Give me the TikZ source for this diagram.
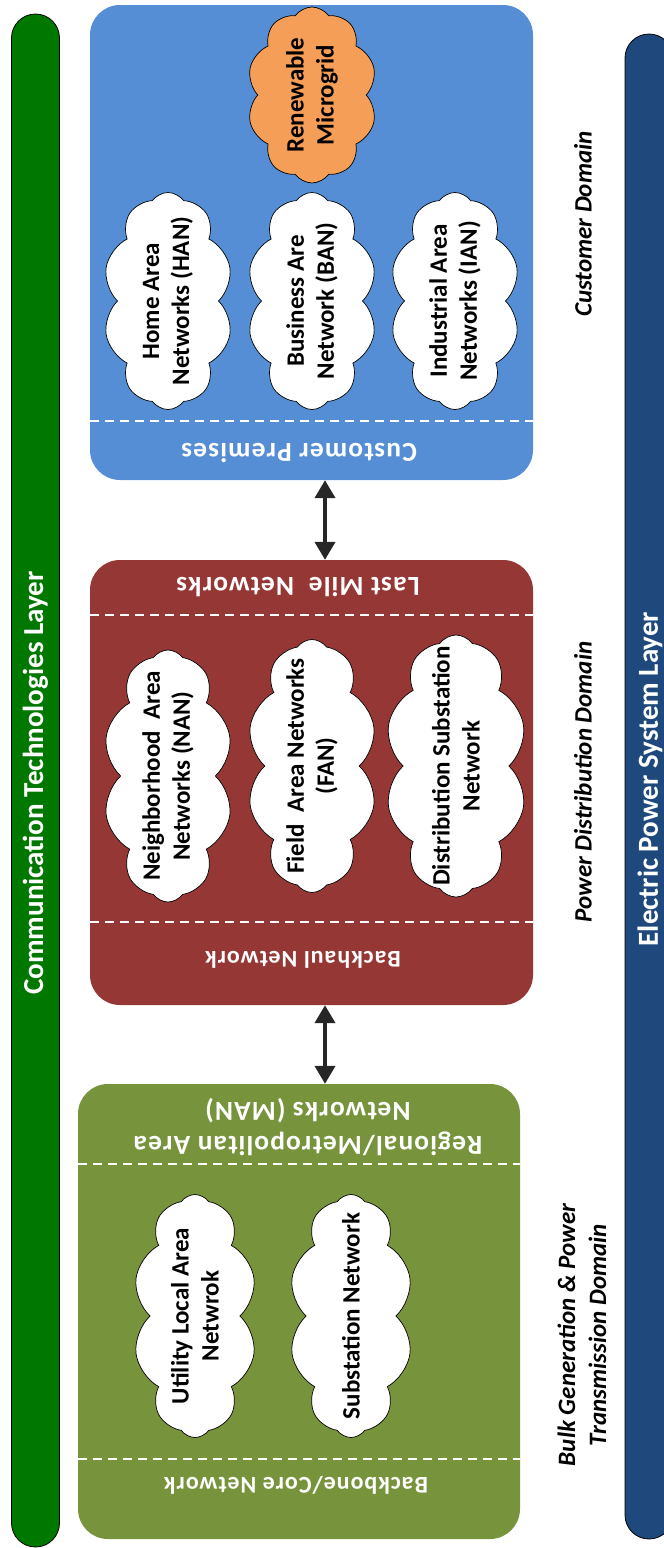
\documentclass[tikz,border=0pt]{standalone}
\usepackage{fontspec}
\setmainfont{Carlito}
\newfontfamily\hdrfont[LetterSpace=4]{Carlito}
\usetikzlibrary{shapes.symbols,arrows.meta}

\definecolor{commgreen}{HTML}{007800}
\definecolor{powerblue}{HTML}{1F497D}
\definecolor{custblue}{HTML}{558ED5}
\definecolor{distred}{HTML}{953735}
\definecolor{bulkgreen}{HTML}{77933C}
\definecolor{microorange}{HTML}{F59E58}
\definecolor{arrowgray}{HTML}{262626}

\newcommand\cloudfont{\bfseries\fontsize{25}{30}\selectfont}
\newcommand\headfont{\hdrfont\bfseries\fontsize{27.5}{34}\selectfont}
\newcommand\subheadfont{\hdrfont\bfseries\fontsize{24}{29}\selectfont}
\newcommand\domainfont{\bfseries\itshape\fontsize{25}{31}\selectfont}

\tikzset{
  layerbar/.style={rectangle, rounded corners=24pt, draw=black, line width=0.8pt, inner sep=0pt},
  layertext/.style={text=white, font=\bfseries\fontsize{29}{35}\selectfont, rotate=90, inner sep=0pt},
  domainbox/.style={rectangle, rounded corners=30pt, draw=none, inner sep=0pt},
  sepline/.style={draw=white, line width=1.5pt, dash pattern=on 9pt off 6pt},
  header/.style={text=white, font=\headfont, rotate=180, align=center, inner sep=0pt},
  subheader/.style={text=white, font=\subheadfont, rotate=180, align=center, inner sep=0pt},
  netcloud/.style={cloud, cloud puffs=10, cloud puff arc=110, cloud ignores aspect,
    draw=black, line width=0.7pt, fill=white, inner sep=0pt, outer sep=0pt},
  cloudlabel/.style={font=\cloudfont, rotate=90, align=center, inner sep=0pt},
  domainlabel/.style={font=\domainfont, rotate=90, align=center, inner sep=0pt},
  link/.style={draw=arrowgray, line width=4pt,
    {Triangle[width=20pt,length=18pt]}-{Triangle[width=20pt,length=18pt]}},
}

\begin{document}
\begin{tikzpicture}[x=1pt,y=-1pt]
\useasboundingbox (0,0) rectangle (664,1548);
\clip (0,0) rectangle (664,1548);

% the two layer bars
\node[layerbar, fill=commgreen, minimum width=48, minimum height=1533] (comm) at (35.5,780.5) {};
\node[layertext] (commlbl) at (35.5,783) {Communication Technologies Layer};
\node[layerbar, fill=powerblue, minimum width=48, minimum height=1505] (power) at (649,786.5) {};
\node[layertext] (powerlbl) at (650,779) {Electric Power System Layer};

% domain boxes
\node[domainbox, fill=custblue, minimum width=443, minimum height=475] (cust) at (311.5,242.5) {};
\node[domainbox, fill=distred, minimum width=443, minimum height=445] (dist) at (311.5,782.5) {};
\node[domainbox, fill=bulkgreen, minimum width=442, minimum height=455] (bulk) at (299,1311.5) {};

% separators inside the boxes
\draw[sepline] (90,421) -- (533,421);
\draw[sepline] (90,615) -- (533,615);
\draw[sepline] (90,922) -- (533,922);
\draw[sepline] (78,1164) -- (520,1164);
\draw[sepline] (78,1459) -- (520,1459);

% box headers
\node[header] (premises) at (299,453) {Customer Premises};
\node[header] (lastmile) at (298,587) {Last Mile\ \ Networks};
\node[subheader] (backhaul) at (303,960) {Backhaul Network};
\node[header] (man) at (308,1127) {Regional/Metropolitan Area\\Networks (MAN)};
\node[subheader] (backbone) at (296,1485) {Backbone/Core Network};

% customer domain clouds
\node[netcloud, fill=microorange, minimum width=130, minimum height=176] (micro) at (312,95) {};
\node[cloudlabel] (microlbl) at (micro.center) {Renewable\\Microgrid};
\node[netcloud, minimum width=130, minimum height=217] (han) at (168,301) {};
\node[cloudlabel] (hanlbl) at (han.center) {Home Area\\Networks (HAN)};
\node[netcloud, minimum width=130, minimum height=217] (ban) at (312,301) {};
\node[cloudlabel] (banlbl) at (ban.center) {Business Are\\Network (BAN)};
\node[netcloud, minimum width=130, minimum height=217] (ian) at (455,301) {};
\node[cloudlabel] (ianlbl) at (ian.center) {Industrial Area\\Networks (IAN)};

% distribution domain clouds
\node[netcloud, minimum width=130, minimum height=252] (nan) at (168,776) {};
\node[cloudlabel] (nanlbl) at (nan.center) {Neighborhood\ \ Area\\Networks (NAN)};
\node[netcloud, minimum width=130, minimum height=253] (fan) at (312,766) {};
\node[cloudlabel] (fanlbl) at (fan.center) {Field\ \ Area Networks\\(FAN)};
\node[netcloud, minimum width=142, minimum height=262] (dsn) at (456,766) {};
\node[cloudlabel] (dsnlbl) at (dsn.center) {Distribution Substation\\Network};

% bulk generation clouds
\node[netcloud, minimum width=124, minimum height=243] (ulan) at (195,1316) {};
\node[cloudlabel] (ulanlbl) at (ulan.center) {Utility Local Area\\Netwrok};
\node[netcloud, minimum width=124, minimum height=243] (subnet) at (351,1316) {};
\node[cloudlabel] (subnetlbl) at (subnet.center) {Substation Network};

% links between domains
\coordinate (ax) at (325,0);
\draw[link] (cust.south -| ax) -- (dist.north -| ax);
\draw[link] (dist.south -| ax) -- (bulk.north -| ax);

% domain names
\node[domainlabel] (custdom) at (583,224) {Customer Domain};
\node[domainlabel] (distdom) at (583,782) {Power Distribution Domain};
\node[domainlabel] (bulkdom) at (582,1335) {Bulk Generation \& Power\\Transmission Domain};
\end{tikzpicture}
\end{document}
